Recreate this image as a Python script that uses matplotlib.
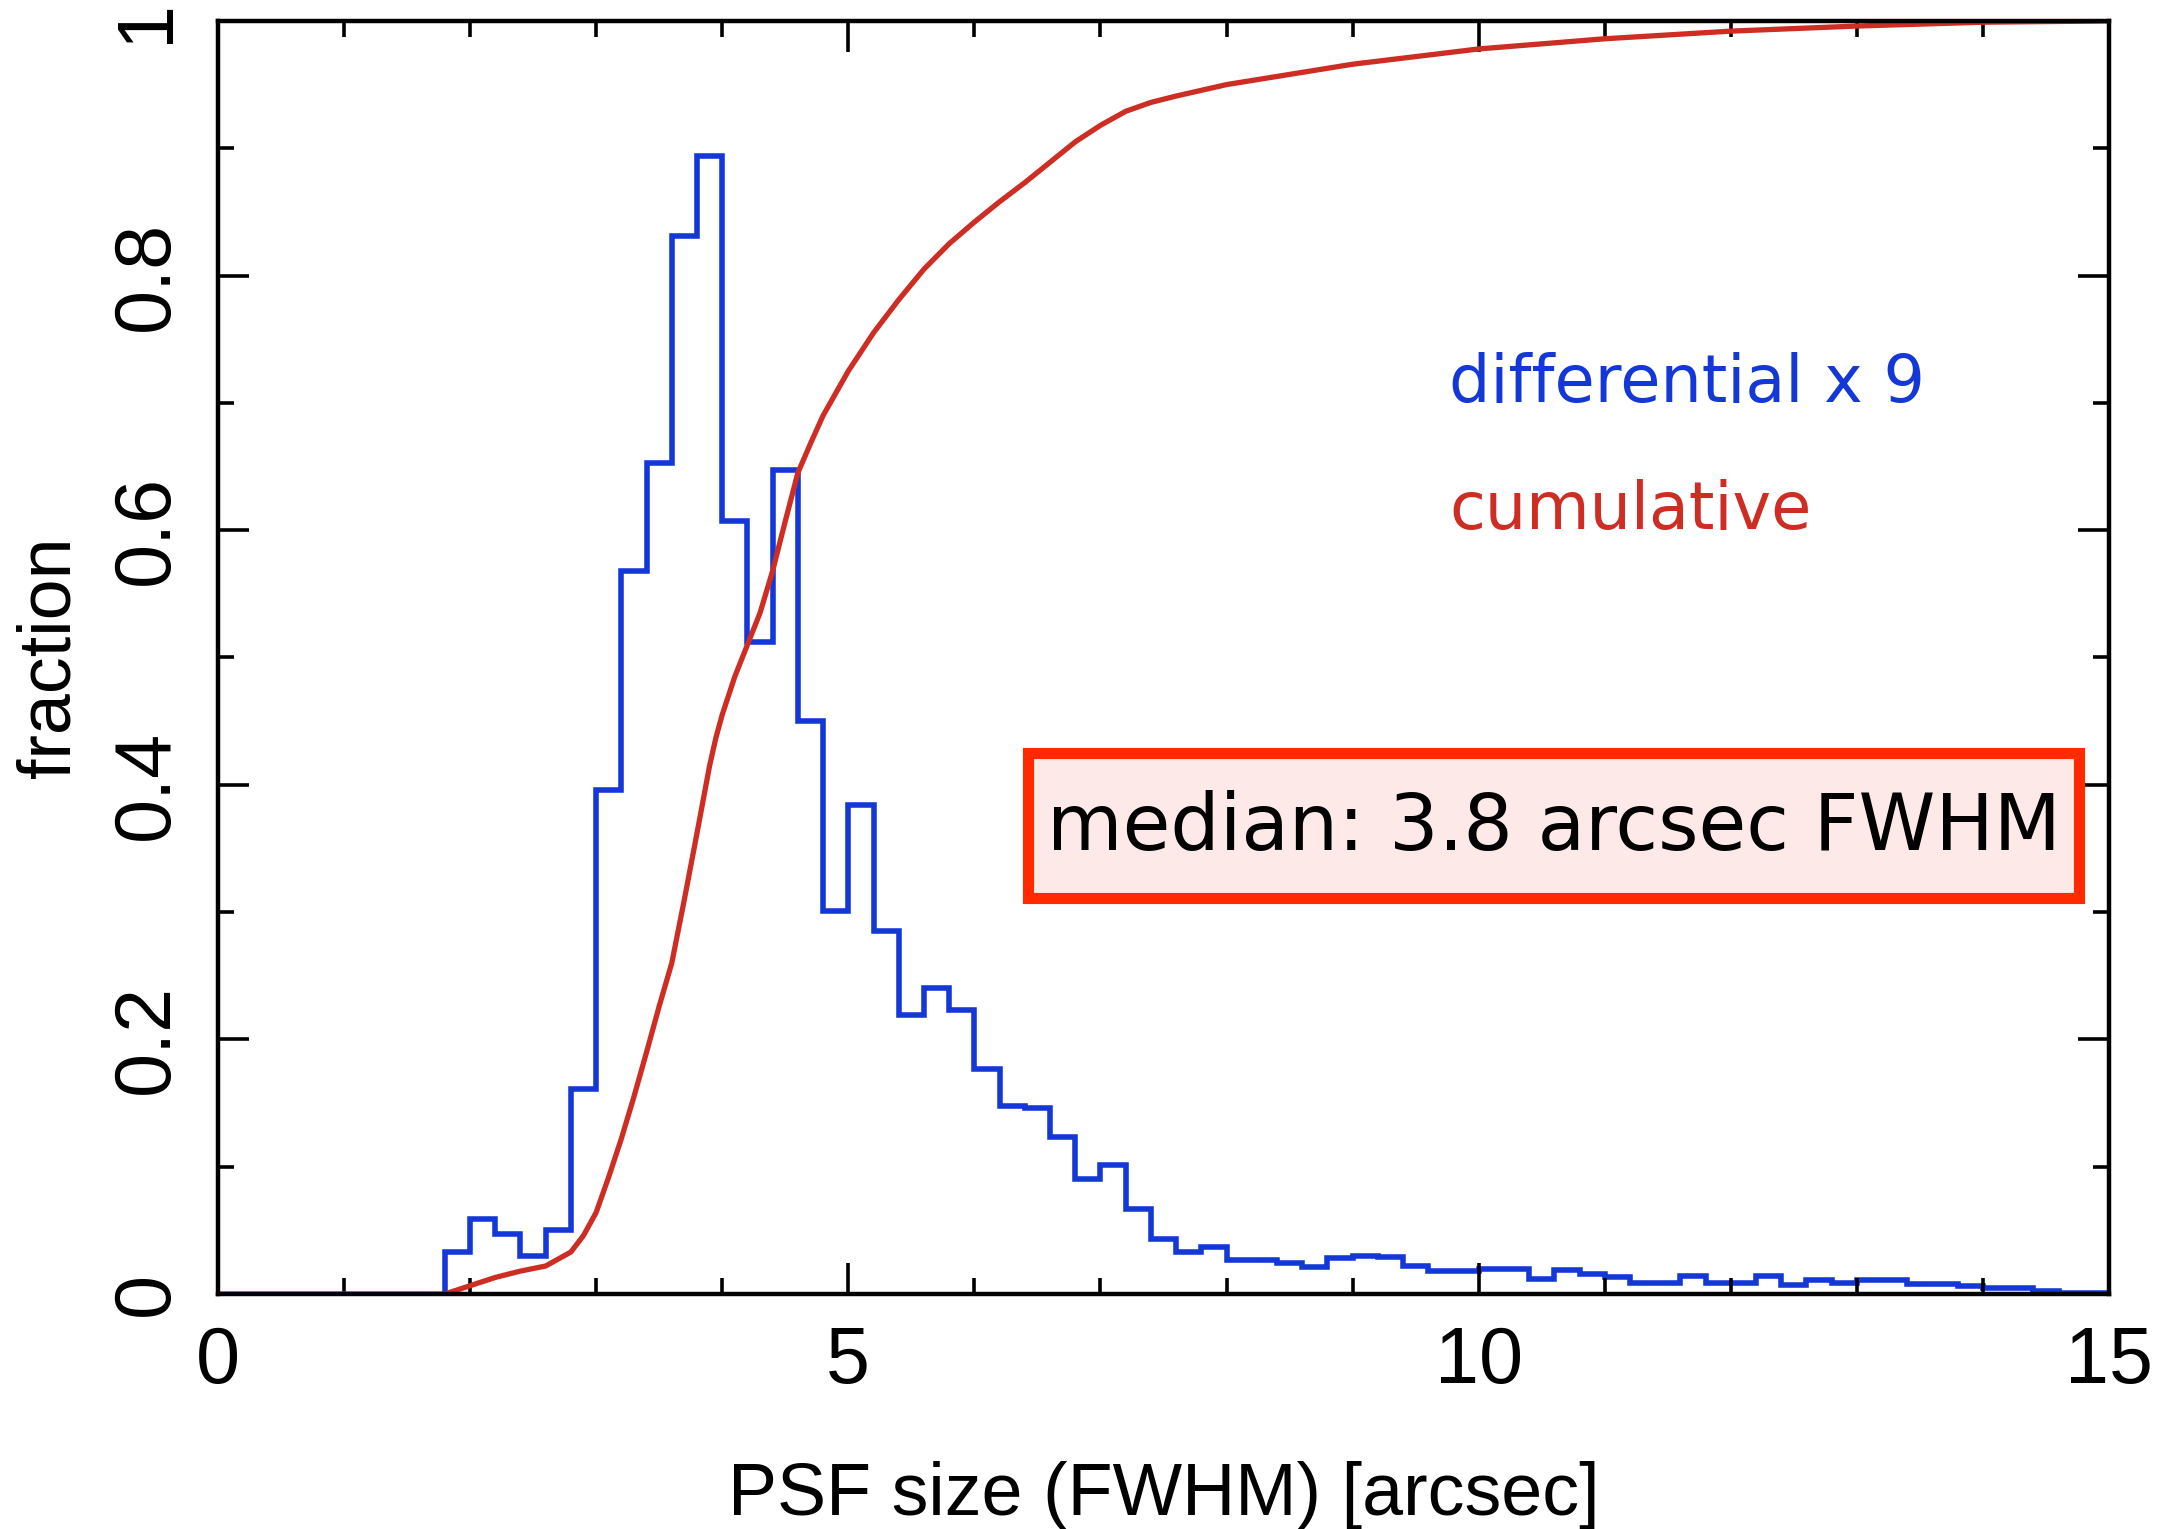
import numpy as np
import matplotlib.pyplot as plt
from matplotlib.ticker import MultipleLocator
from matplotlib.patches import Rectangle

plt.rcParams['font.family'] = ['Liberation Sans', 'DejaVu Sans']

blue = np.array([20, 55, 215]) / 255
red = np.array([205, 45, 35]) / 255

# differential histogram (x 9), 0.2 arcsec bins starting at 1.8
bin_start = 1.8
bin_width = 0.2
diff_x9 = [0.033, 0.059, 0.047, 0.030, 0.050, 0.161,
           0.396, 0.568, 0.653, 0.831, 0.894,
           0.607, 0.512, 0.647, 0.450, 0.301,
           0.384, 0.285, 0.219, 0.240, 0.223,
           0.177, 0.148, 0.146, 0.123, 0.090,
           0.101, 0.067, 0.043, 0.033, 0.037,
           0.027, 0.027, 0.024, 0.021, 0.028,
           0.030, 0.029, 0.022, 0.018, 0.018,
           0.020, 0.020, 0.012, 0.019, 0.016,
           0.013, 0.009, 0.009, 0.014, 0.009,
           0.009, 0.014, 0.007, 0.011, 0.009,
           0.011, 0.011, 0.008, 0.008, 0.006,
           0.005, 0.005, 0.002, 0.001, 0.001]

# cumulative curve
cum_x = [0, 1.8, 2.0, 2.2, 2.4, 2.6, 2.8, 2.9, 3.0, 3.1, 3.2, 3.3, 3.4, 3.5,
         3.6, 3.7, 3.8, 3.9, 3.95, 4.0, 4.1, 4.2, 4.3, 4.4, 4.5, 4.6, 4.7,
         4.8, 5.0, 5.2, 5.4, 5.6, 5.8, 6.0, 6.2, 6.4, 6.6, 6.8, 7.0, 7.2,
         7.4, 7.6, 8.0, 9.0, 10.0, 11.0, 12.0, 13.0, 14.0, 15.0]
cum_y = [0, 0, 0.0065, 0.013, 0.018, 0.022, 0.033, 0.046, 0.064, 0.092,
         0.122, 0.155, 0.19, 0.226, 0.26, 0.31, 0.362, 0.415, 0.437, 0.455,
         0.485, 0.51, 0.535, 0.568, 0.607, 0.645, 0.668, 0.69, 0.725, 0.755,
         0.781, 0.805, 0.825, 0.842, 0.858, 0.873, 0.889, 0.905, 0.918,
         0.929, 0.936, 0.941, 0.95, 0.966, 0.978, 0.986, 0.992, 0.996,
         0.999, 1.0]

edges = bin_start + bin_width * np.arange(len(diff_x9) + 1)

fig = plt.figure(figsize=(21.64, 15.29), dpi=100)
ax = fig.add_axes([0.1007, 0.1537, 0.8739, 0.8326])

ax.stairs(diff_x9, edges, baseline=0, color=blue, lw=4.0)
ax.plot(cum_x, cum_y, color=red, lw=3.8)

ax.set_xlim(0, 15)
ax.set_ylim(0, 1)
ax.xaxis.set_major_locator(MultipleLocator(5))
ax.xaxis.set_minor_locator(MultipleLocator(1))
ax.yaxis.set_major_locator(MultipleLocator(0.2))
ax.yaxis.set_minor_locator(MultipleLocator(0.1))
ax.yaxis.set_major_formatter(lambda v, p: f'{round(v, 1):g}')

for s in ax.spines.values():
    s.set_linewidth(3.2)
ax.tick_params(which='both', direction='in', top=True, right=True, width=2.6)
ax.tick_params(which='major', length=22)
ax.tick_params(which='minor', length=11.5)
ax.tick_params(axis='x', labelsize=57, pad=22)
ax.tick_params(axis='y', labelsize=57, pad=24, labelrotation=90)
for lab in ax.get_yticklabels():
    lab.set_va('center')

ax.set_xlabel('PSF size (FWHM) [arcsec]', fontsize=53, labelpad=44)
ax.set_ylabel('fraction', fontsize=53, labelpad=18)

ax.text(0.651, 0.715, 'differential x 9', transform=ax.transAxes,
        color=blue, fontsize=47, family='DejaVu Sans', va='center')
ax.text(0.651, 0.615, 'cumulative', transform=ax.transAxes,
        color=red, fontsize=47, family='DejaVu Sans', va='center')

box = Rectangle((0.4285, 0.311), 0.5555, 0.1138, transform=ax.transAxes,
                fc='#fde9e7', ec='#ff2a00', lw=8, zorder=4)
ax.add_patch(box)
ax.text(0.7066, 0.366, 'median: 3.8 arcsec FWHM', transform=ax.transAxes,
        fontsize=56, family='DejaVu Sans', ha='center', va='center', zorder=5)

fig.savefig('out.png', dpi=100)
